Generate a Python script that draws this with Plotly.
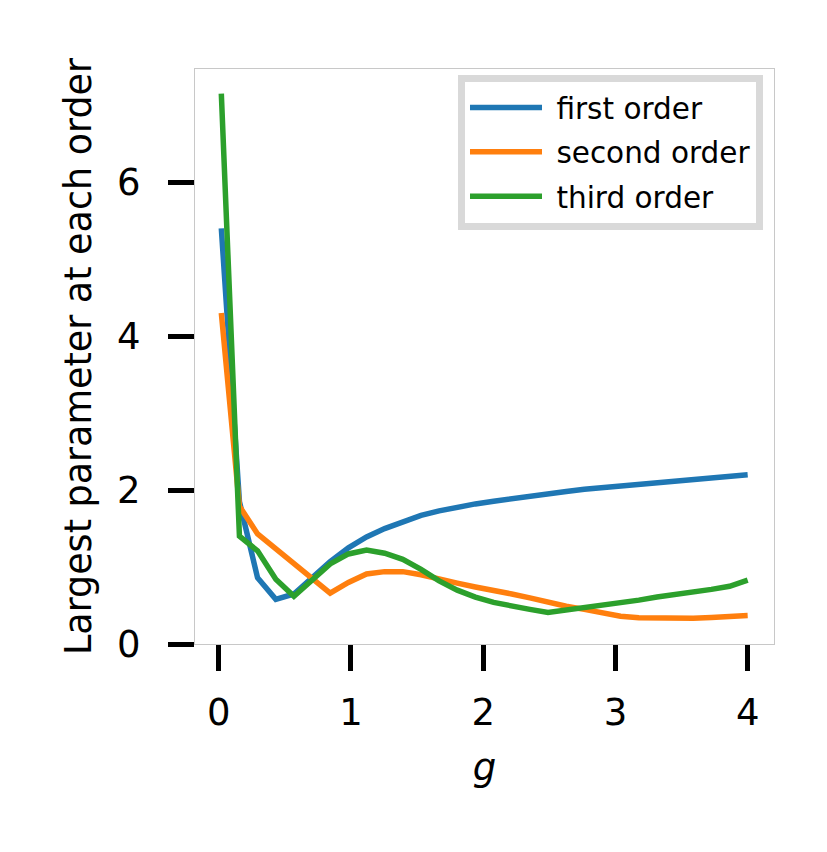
import plotly.graph_objects as go

# coupling values g (shared grid)
g_values = [0.020, 0.157, 0.294, 0.432, 0.569, 0.706, 0.843, 0.981, 1.118, 1.255,
            1.392, 1.530, 1.667, 1.804, 1.941, 2.079, 2.216, 2.353, 2.490, 2.628,
            2.765, 2.902, 3.039, 3.177, 3.314, 3.451, 3.588, 3.726, 3.863, 4.000]

first_order = [5.40, 1.85, 0.86, 0.58, 0.65, 0.86, 1.07, 1.25, 1.39, 1.50,
               1.59, 1.67, 1.73, 1.78, 1.82, 1.855, 1.89, 1.92, 1.95, 1.98,
               2.01, 2.03, 2.06, 2.08, 2.10, 2.12, 2.14, 2.16, 2.18, 2.20]

second_order = [4.30, 1.79, 1.43, 1.24, 1.05, 0.86, 0.66, 0.80, 0.91, 0.94,
                0.94, 0.90, 0.84, 0.79, 0.74, 0.70, 0.65, 0.60, 0.54, 0.49,
                0.45, 0.40, 0.36, 0.34, 0.335, 0.335, 0.335, 0.345, 0.355, 0.37]

third_order = [7.15, 1.40, 1.21, 0.84, 0.62, 0.83, 1.04, 1.17, 1.22, 1.18,
               1.10, 0.97, 0.82, 0.70, 0.61, 0.54, 0.49, 0.45, 0.41, 0.44,
               0.47, 0.50, 0.54, 0.57, 0.61, 0.64, 0.68, 0.71, 0.75, 0.83]

series = [
    ('first order', first_order, '#1f77b4'),
    ('second order', second_order, '#ff7f0e'),
    ('third order', third_order, '#2ca02c'),
]

fig = go.Figure()
for name, vals, color in series:
    fig.add_trace(go.Scatter(
        x=g_values,
        y=vals,
        mode='lines',
        name=' ' + name,  # small extra gap after the legend line
        legendgroup=name,
        line=dict(color=color, width=5.5)
    ))

axis_common = dict(
    showline=True,
    mirror=True,
    linecolor='#c8c8c8',
    linewidth=1,
    showgrid=False,
    zeroline=False,
    ticks='outside',
    ticklen=26,
    tickwidth=5,
    tickcolor='black',
    tickfont=dict(family='DejaVu Sans', size=37, color='black'),
)

fig.update_layout(
    width=827,
    height=852,
    margin=dict(l=187, r=61, t=61, b=216),
    paper_bgcolor='white',
    plot_bgcolor='white',
    font=dict(family='DejaVu Sans', color='black'),
    xaxis=dict(
        range=[-0.179, 4.199],
        tickvals=[0, 1, 2, 3, 4],
        ticklabelstandoff=10,
        title=dict(text='<i>g</i>', font=dict(size=37), standoff=20),
        **axis_common
    ),
    yaxis=dict(
        range=[0, 7.47],
        tickvals=[0, 2, 4, 6],
        ticklabelstandoff=20,
        title=dict(text='Largest parameter at each order', font=dict(size=36.5), standoff=14),
        **axis_common
    ),
    legend=dict(
        x=0.981,
        y=0.99,
        xanchor='right',
        yanchor='top',
        bgcolor='white',
        bordercolor='#d9d9d9',
        borderwidth=7,
        itemwidth=72,
        tracegroupgap=3,
        font=dict(family='DejaVu Sans', size=29.5, color='black'),
    ),
)

fig.write_html("out.html")
